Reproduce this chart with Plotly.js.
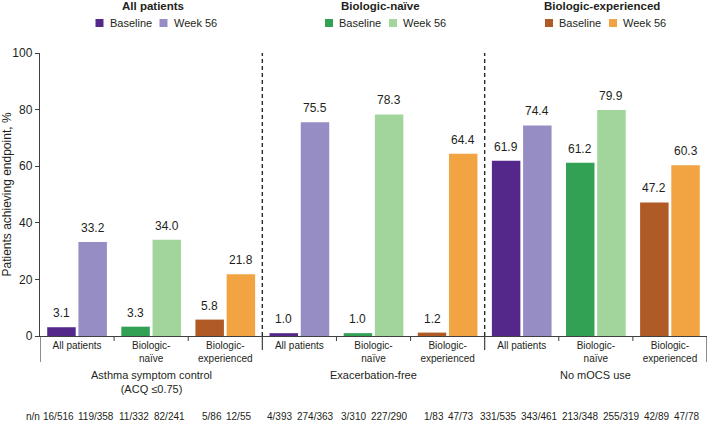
<!DOCTYPE html>
<html>
<head>
<meta charset="utf-8">
<script src="https://cdn.plot.ly/plotly-3.0.1.min.js"></script>
<style>html,body{margin:0;padding:0;background:#fff;}</style>
</head>
<body>
<div id="chart" style="width:709px;height:422px;"></div>
<script>
// Endpoints (outer groups) and patient subgroups (bars within each endpoint)
const endpoints = ["Asthma symptom control<br>(ACQ ≤0.75)", "Exacerbation-free", "No mOCS use"];
const subgroups = ["All patients", "Biologic-naïve", "Biologic-experienced"];
const subgroupTicks = ["All patients", "Biologic-<br>naïve", "Biologic-<br>experienced"];
const timepoints = ["Baseline", "Week 56"];

// Patients achieving endpoint (%), one value per endpoint
const baselineAll = [3.1, 1.0, 61.9];
const baselineNaive = [3.3, 1.0, 61.2];
const baselineExperienced = [5.8, 1.2, 47.2];
const week56All = [33.2, 75.5, 74.4];
const week56Naive = [34.0, 78.3, 79.9];
const week56Experienced = [21.8, 64.4, 60.3];

// n/N behind each percentage
const nBaselineAll = ["16/516", "4/393", "331/535"];
const nBaselineNaive = ["11/332", "3/310", "213/348"];
const nBaselineExperienced = ["5/86", "1/83", "42/89"];
const nWeek56All = ["119/358", "274/363", "343/461"];
const nWeek56Naive = ["82/241", "227/290", "255/319"];
const nWeek56Experienced = ["12/55", "47/73", "47/78"];

// Colours: [baseline, week 56] for each subgroup
const coloursAll = ["#54288a", "#978dc5"];
const coloursNaive = ["#32a153", "#a1d59b"];
const coloursExperienced = ["#b05a25", "#f1a441"];

const baselineSeries = [baselineAll, baselineNaive, baselineExperienced];
const week56Series = [week56All, week56Naive, week56Experienced];
const baselineN = [nBaselineAll, nBaselineNaive, nBaselineExperienced];
const week56N = [nWeek56All, nWeek56Naive, nWeek56Experienced];
const subgroupColours = [coloursAll, coloursNaive, coloursExperienced];

const FONT = "Liberation Sans, Arial, Helvetica, sans-serif";
const INK = "#231f20";
const AXIS = "#404040";

const BARGAP = 0.158;
const BARGROUPGAP = 0.087;
const slotHalf = (1 - BARGAP) / 4; // offset of each bar centre from its category centre

// geometry of the plotting area, for placing decoration in pixels
const W = 709, H = 422;
const M = {l: 40, r: 2, t: 53, b: 86};
const pw = W - M.l - M.r, ph = H - M.t - M.b;
const px = p => (p - M.l) / pw;
const py = p => (H - M.b - p) / ph;

const nSub = subgroups.length;
const nEnd = endpoints.length;
const nCat = nSub * nEnd;
const pos = (e, s) => e * nSub + s;
const xRange = [-0.5, nCat - 0.5];
const unit = pw / nCat; // pixels per category

const traces = [];
subgroups.forEach((sg, s) => {
  const xs = endpoints.map((_, e) => pos(e, s));
  [baselineSeries[s], week56Series[s]].forEach((vals, t) => {
    traces.push({
      type: "bar",
      name: sg + " – " + timepoints[t],
      x: xs,
      y: vals,
      offsetgroup: timepoints[t],
      marker: {color: subgroupColours[s][t], line: {width: 0}},
      hovertemplate: sg + ", " + timepoints[t] + ": %{y:.1f}%<extra></extra>"
    });
  });
});

const annotations = [];
const shapes = [];

// value labels above bars
subgroups.forEach((sg, s) => {
  endpoints.forEach((_, e) => {
    const c = pos(e, s);
    [[baselineSeries[s][e], -1], [week56Series[s][e], 1]].forEach(([v, side]) => {
      annotations.push({
        x: c + side * slotHalf, y: v, xref: "x", yref: "y",
        text: v.toFixed(1), showarrow: false, yanchor: "bottom", yshift: 5,
        font: {size: 12, color: INK, family: FONT}
      });
    });
  });
});

// n/n row: each baseline/week-56 pair sits around its category centre,
// neighbouring pairs are nudged apart so the texts never touch
const N_SIZE = 10;
const ctx = document.createElement("canvas").getContext("2d");
ctx.font = N_SIZE + "px 'Liberation Sans', Arial, sans-serif";
const textW = t => ctx.measureText(t).width;
const PAIR_GAP = 5, MIN_GAP = 5;
const pairs = [];
for (let c = 0; c < nCat; c++) {
  const e = Math.floor(c / nSub), s = c % nSub;
  const a = baselineN[s][e], b = week56N[s][e];
  const wa = textW(a), wb = textW(b);
  const width = wa + PAIR_GAP + wb;
  const centrePx = M.l + (c + 0.5) * unit;
  pairs.push({c, a, b, wa, wb, width, left: centrePx - width / 2});
}
for (let iter = 0; iter < 20; iter++) {
  for (let i = 0; i < pairs.length - 1; i++) {
    const p = pairs[i], q = pairs[i + 1];
    const overlap = (p.left + p.width + MIN_GAP) - q.left;
    if (overlap > 0) { p.left -= overlap / 2; q.left += overlap / 2; }
  }
  const last = pairs[pairs.length - 1];
  const over = last.left + last.width - (W - 1);
  if (over > 0) last.left -= over;
}
pairs.forEach(p => {
  annotations.push({
    x: px(p.left), y: py(416), xref: "paper", yref: "paper", text: p.a,
    showarrow: false, xanchor: "left", yanchor: "middle", borderpad: 0,
    font: {size: N_SIZE, color: INK, family: FONT}
  });
  annotations.push({
    x: px(p.left + p.wa + PAIR_GAP), y: py(416), xref: "paper", yref: "paper", text: p.b,
    showarrow: false, xanchor: "left", yanchor: "middle", borderpad: 0,
    font: {size: N_SIZE, color: INK, family: FONT}
  });
});
annotations.push({
  x: px(23.5), y: py(416), xref: "paper", yref: "paper", text: "n/n",
  showarrow: false, yanchor: "middle", font: {size: N_SIZE, color: INK, family: FONT}
});

// endpoint labels
endpoints.forEach((ep, e) => {
  annotations.push({
    x: pos(e, 1), y: py(367), xref: "x", yref: "paper", text: ep,
    showarrow: false, yanchor: "top", font: {size: 11, color: INK, family: FONT}
  });
});

// short ticks between subgroups within an endpoint
for (let c = 0; c < nCat - 1; c++) {
  if ((c + 1) % nSub === 0) continue;
  const b = c + 0.5;
  shapes.push({type: "line", xref: "x", yref: "paper", x0: b, x1: b, y0: py(341), y1: 0,
    line: {color: AXIS, width: 1}});
}

// dashed separators between endpoints, solid brackets under the axis
for (let e = 1; e < nEnd; e++) {
  const b = pos(e, 0) - 0.5;
  shapes.push({type: "line", xref: "x", yref: "paper", x0: b, x1: b, y0: 0, y1: 1,
    line: {color: "#2a2a2a", width: 1.4, dash: "4px,3px"}});
  shapes.push({type: "line", xref: "x", yref: "paper", x0: b, x1: b, y0: py(350), y1: 0,
    line: {color: AXIS, width: 1.2}});
}
xRange.forEach(b => {
  shapes.push({type: "line", xref: "x", yref: "paper", x0: b, x1: b, y0: py(362), y1: 0,
    line: {color: AXIS, width: 1.2}});
});

// legend: one block per subgroup
const legendTitleX = [153, 380, 602];
const legendItemX = [155.5, 385, 605];
subgroups.forEach((sg, s) => {
  annotations.push({
    x: px(legendTitleX[s]), y: py(6), xref: "paper", yref: "paper",
    text: "<b>" + sg + "</b>", showarrow: false, yanchor: "middle", xanchor: "center",
    font: {size: 11.5, color: INK, family: FONT}
  });
  const cx = legendItemX[s];
  const items = [[cx - 60, timepoints[0], subgroupColours[s][0]], [cx + 4, timepoints[1], subgroupColours[s][1]]];
  items.forEach(([x0, label, col]) => {
    shapes.push({type: "rect", xref: "paper", yref: "paper",
      x0: px(x0), x1: px(x0 + 8), y0: py(27), y1: py(19),
      fillcolor: col, line: {width: 0}});
    annotations.push({
      x: px(x0 + 12), y: py(23), xref: "paper", yref: "paper", text: label,
      showarrow: false, xanchor: "left", yanchor: "middle",
      font: {size: 11, color: INK, family: FONT}
    });
  });
});

const centres = [];
const ticksText = [];
endpoints.forEach((_, e) => subgroups.forEach((_, s) => { centres.push(pos(e, s)); ticksText.push(subgroupTicks[s]); }));

const layout = {
  width: W, height: H,
  margin: M,
  paper_bgcolor: "#fff", plot_bgcolor: "#fff",
  font: {family: FONT, color: INK},
  showlegend: false,
  barmode: "group",
  bargap: BARGAP,
  bargroupgap: BARGROUPGAP,
  xaxis: {
    range: xRange, tickmode: "array", tickvals: centres, ticktext: ticksText,
    ticks: "", ticklabelstandoff: 0,
    showline: true, linecolor: AXIS, linewidth: 1.2,
    showgrid: false, zeroline: false, fixedrange: true,
    tickfont: {size: 10, color: INK, family: FONT}
  },
  yaxis: {
    range: [0, 100], tickmode: "array", tickvals: [0, 20, 40, 60, 80, 100],
    ticks: "outside", ticklen: 4, tickcolor: AXIS, tickwidth: 1,
    showline: true, linecolor: AXIS, linewidth: 1.2,
    showgrid: false, zeroline: false,
    tickfont: {size: 12, color: INK, family: FONT},
    title: {text: "Patients achieving endpoint, %", font: {size: 12, color: INK, family: FONT}, standoff: 0},
    fixedrange: true
  },
  annotations: annotations,
  shapes: shapes
};

Plotly.newPlot("chart", traces, layout, {displayModeBar: false, staticPlot: true});
</script>
</body>
</html>
